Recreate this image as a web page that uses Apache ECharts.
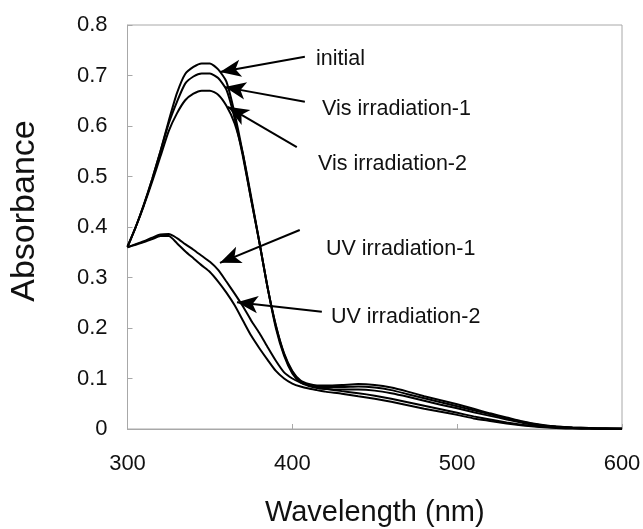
<!DOCTYPE html>
<html>
<head>
<meta charset="utf-8">
<script src="https://cdn.jsdelivr.net/npm/echarts@6/dist/echarts.min.js"></script>
<style>
  html, body { margin: 0; padding: 0; background: #fff; }
  #chart { width: 643px; height: 529px; }
</style>
</head>
<body>
<div id="chart"></div>
<script>
// wavelength (nm)
const wavelength = [300, 305, 310, 315, 320, 325, 330, 335, 340, 345, 350, 355, 360, 365, 370, 375, 380, 385, 390, 395, 400, 405, 410, 415, 420,
  430, 440, 450, 460, 470, 480, 490, 500, 510, 520, 530, 540, 550, 560, 570, 580, 590, 600]

// absorbance
const initial = [0.362, 0.40, 0.445, 0.495, 0.55, 0.61, 0.665, 0.703, 0.717, 0.724, 0.724, 0.712, 0.688, 0.625, 0.545, 0.455, 0.37, 0.28, 0.205, 0.15, 0.115, 0.096, 0.089, 0.086, 0.086,
  0.087, 0.089, 0.087, 0.082, 0.074, 0.065, 0.057, 0.049, 0.040, 0.031, 0.023, 0.015, 0.009, 0.005, 0.003, 0.002, 0.001, 0.001]
const vis1 = [0.36, 0.40, 0.445, 0.495, 0.55, 0.605, 0.648, 0.684, 0.698, 0.704, 0.704, 0.695, 0.672, 0.615, 0.54, 0.455, 0.37, 0.28, 0.205, 0.148, 0.113, 0.094, 0.087, 0.084, 0.083,
  0.083, 0.084, 0.082, 0.077, 0.069, 0.061, 0.053, 0.045, 0.037, 0.029, 0.021, 0.014, 0.008, 0.005, 0.003, 0.002, 0.001, 0.001]
const vis2 = [0.36, 0.40, 0.443, 0.49, 0.54, 0.59, 0.625, 0.651, 0.664, 0.67, 0.67, 0.662, 0.64, 0.605, 0.545, 0.46, 0.37, 0.28, 0.20, 0.145, 0.11, 0.092, 0.085, 0.081, 0.079,
  0.078, 0.078, 0.076, 0.071, 0.064, 0.056, 0.048, 0.041, 0.033, 0.026, 0.019, 0.012, 0.007, 0.004, 0.002, 0.001, 0.001, 0]
const uv1 = [0.36, 0.366, 0.372, 0.379, 0.385, 0.386, 0.378, 0.366, 0.355, 0.343, 0.331, 0.315, 0.292, 0.268, 0.243, 0.215, 0.19, 0.162, 0.135, 0.112, 0.100, 0.092, 0.087, 0.083, 0.080,
  0.075, 0.071, 0.066, 0.060, 0.053, 0.046, 0.039, 0.032, 0.025, 0.019, 0.013, 0.008, 0.005, 0.003, 0.002, 0.001, 0.001, 0]
const uv2 = [0.36, 0.365, 0.37, 0.376, 0.382, 0.382, 0.368, 0.352, 0.338, 0.324, 0.311, 0.292, 0.27, 0.245, 0.215, 0.185, 0.16, 0.137, 0.115, 0.10, 0.09, 0.084, 0.080, 0.077, 0.074,
  0.070, 0.065, 0.060, 0.054, 0.047, 0.040, 0.034, 0.028, 0.021, 0.016, 0.011, 0.007, 0.004, 0.002, 0.001, 0.001, 0, 0]

const seriesNames = ['initial', 'Vis irradiation-1', 'Vis irradiation-2', 'UV irradiation-1', 'UV irradiation-2']
const seriesValues = [initial, vis1, vis2, uv1, uv2]

// arrows: [tail, head] in data units
const arrows = [
  [[407.6, 0.737], [356.1, 0.707]],
  [[407.6, 0.648], [359.1, 0.677]],
  [[402.7, 0.558], [360.9, 0.638]],
  [[404.5, 0.394], [356.1, 0.329]],
  [[417.9, 0.232], [366.4, 0.251]]
]
// label text positions (px)
const labelPos = [[316, 60], [322, 110], [318, 165], [326, 250], [331, 318]]

const font = 'Liberation Sans, Arial, sans-serif'
const myChart = echarts.init(document.getElementById('chart'))

const series = seriesValues.map((vals, i) => ({
  name: seriesNames[i],
  type: 'line',
  data: wavelength.map((w, j) => [w, vals[j]]),
  showSymbol: false,
  smooth: 0.2,
  lineStyle: { color: '#000', width: 2 },
  silent: true
}))

// arrows go on the first series
series[0].markLine = {
  silent: true,
  animation: false,
  symbol: ['none', 'arrow'],
  symbolSize: [13, 21],
  label: { show: false },
  lineStyle: { color: '#000', width: 2, type: 'solid' },
  data: arrows.map(a => [{ coord: a[0] }, { coord: a[1] }])
}

const option = {
  animation: false,
  backgroundColor: '#fff',
  grid: {
    left: 127.5,
    right: 21,
    top: 25,
    bottom: 100,
    outerBoundsMode: 'none',
    show: true,
    borderColor: '#a8a8a8',
    borderWidth: 1
  },
  xAxis: {
    type: 'value',
    min: 300,
    max: 600,
    interval: 100,
    name: 'Wavelength (nm)',
    nameLocation: 'middle',
    nameGap: 69,
    nameTextStyle: { fontFamily: font, fontSize: 29, color: '#111' },
    axisLine: { lineStyle: { color: '#a8a8a8' } },
    axisTick: { inside: true, length: 5, lineStyle: { color: '#a8a8a8' } },
    axisLabel: { fontFamily: font, fontSize: 22, color: '#111', margin: 24 },
    splitLine: { show: false }
  },
  yAxis: {
    type: 'value',
    min: 0,
    max: 0.8,
    interval: 0.1,
    name: 'Absorbance',
    nameLocation: 'middle',
    nameGap: 86,
    nameTextStyle: { fontFamily: font, fontSize: 34, color: '#111', padding: [0, 0, 0, 32] },
    axisLine: { show: true, lineStyle: { color: '#a8a8a8' } },
    axisTick: { show: true, inside: true, length: 5, lineStyle: { color: '#a8a8a8' } },
    axisLabel: {
      fontFamily: font, fontSize: 22, color: '#111', margin: 20,
      formatter: v => (v === 0 ? '0' : v.toFixed(1))
    },
    splitLine: { show: false }
  },
  graphic: seriesNames.map((name, i) => ({
    type: 'text',
    left: labelPos[i][0],
    top: labelPos[i][1] - 12,
    style: { text: name, font: '21.5px ' + font, fill: '#111' }
  })),
  series
}

myChart.setOption(option)
</script>
</body>
</html>
